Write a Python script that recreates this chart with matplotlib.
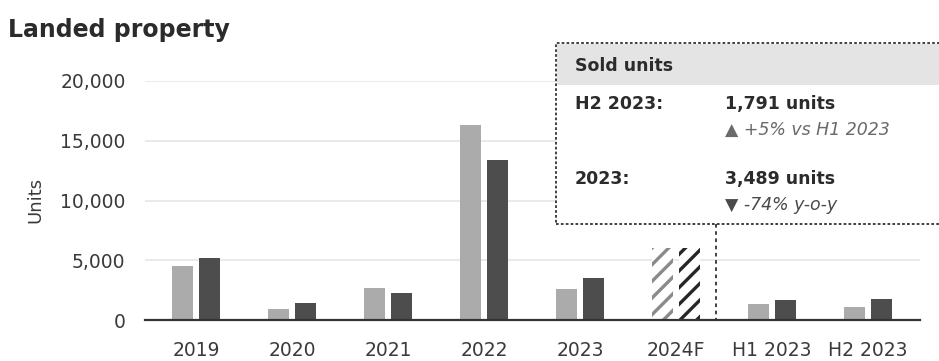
import numpy as np
import matplotlib
matplotlib.use('Agg')
import matplotlib.pyplot as plt
from matplotlib.patches import Rectangle
from matplotlib.lines import Line2D

# ---- data ----
categories = ['2019', '2020', '2021', '2022', '2023', '2024F', 'H1 2023', 'H2 2023']
launched = [4500, 920, 2670, 16330, 2580, 6000, 1330, 1080]
sold = [5170, 1420, 2230, 13420, 3489, 6050, 1706, 1791]
forecast = [False, False, False, False, False, True, False, False]

yticks = [0, 5000, 10000, 15000, 20000]

LIGHT = '#ababab'
DARK = '#4d4d4d'
TEXT = '#2b2b2b'

plt.rcParams['font.family'] = ['DejaVu Sans']
plt.rcParams['hatch.linewidth'] = 2.4

W, H = 939, 361
fig = plt.figure(figsize=(W / 100, H / 100), dpi=100)


def px(x, y):
    """pixel position -> figure fraction"""
    return x / W, 1 - y / H


ax = fig.add_axes([145 / W, 1 - 320 / H, 775 / W, 239 / H])

x = np.arange(len(categories))
bw = 0.22
off = 0.143
for i in range(len(categories)):
    if forecast[i]:
        ax.bar(x[i] - off, launched[i], bw, facecolor='white', edgecolor='#8a8a8a',
               linewidth=0, hatch='//', zorder=3)
        ax.bar(x[i] + off, sold[i], bw, facecolor='white', edgecolor='#262626',
               linewidth=0, hatch='//', zorder=3)
    else:
        ax.bar(x[i] - off, launched[i], bw, color=LIGHT, zorder=3)
        ax.bar(x[i] + off, sold[i], bw, color=DARK, zorder=3)

ax.set_xlim(-0.53, 7.54)
ax.set_ylim(0, 20000)
ax.set_yticks(yticks)
ax.set_yticklabels([f'{v:,}' for v in yticks], fontsize=13.5, color='#3a3a3a')
ax.set_xticks(x)
ax.set_xticklabels(categories, fontsize=13.5, color='#3a3a3a')
ax.tick_params(axis='y', length=0, pad=14)
ax.tick_params(axis='x', length=0, pad=15)
ax.grid(axis='y', color='#e6e6e6', linewidth=1.2, zorder=0)
for s in ['top', 'right', 'left']:
    ax.spines[s].set_visible(False)
ax.spines['bottom'].set_color('#333333')
ax.spines['bottom'].set_linewidth(1.6)
ax.spines['bottom'].set_zorder(4)

fig.text(*px(35, 200), 'Units', rotation=90, fontsize=13, color='#3a3a3a',
         ha='center', va='center')
fig.text(*px(8, 30), 'Landed property', fontsize=17, fontweight='bold', color=TEXT,
         ha='left', va='center')

# ---- callout box ----
bx0, by0, bx1, by1 = 556, 43, 945, 224
hx, hy = px(bx0, by1)
box = Rectangle((hx, hy), (bx1 - bx0) / W, (by1 - by0) / H, transform=fig.transFigure,
                facecolor='white', edgecolor='#333333', linewidth=1.3,
                linestyle=(0, (1.5, 1.2)), zorder=5, clip_on=False)
fig.patches.append(box)
hx, hy = px(bx0, 85)
band = Rectangle((hx + 1 / W, hy), (bx1 - bx0) / W, (85 - by0 - 1) / H,
                 transform=fig.transFigure, facecolor='#e4e4e4', edgecolor='none',
                 zorder=6)
fig.patches.append(band)

# dashed connector down to the axis
lx = 716
fig.lines.append(Line2D([lx / W, lx / W], [1 - by1 / H, 1 - 320 / H],
                        transform=fig.transFigure, color='#333333', linewidth=1.3,
                        linestyle=(0, (2, 2)), zorder=5))

h2 = sold[categories.index('H2 2023')]
h1 = sold[categories.index('H1 2023')]
y23 = sold[categories.index('2023')]
y22 = sold[categories.index('2022')]
hoh = (h2 / h1 - 1) * 100
yoy = (y23 / y22 - 1) * 100

fig.text(*px(575, 66), 'Sold units', fontsize=12.5, fontweight='bold', color=TEXT,
         va='center', zorder=7)
fig.text(*px(575, 104), 'H2 2023:', fontsize=12.5, fontweight='bold', color=TEXT,
         va='center', zorder=7)
fig.text(*px(725, 104), f'{h2:,} units', fontsize=12.5, fontweight='bold', color=TEXT,
         va='center', zorder=7)
fig.text(*px(725, 130), f'\u25b2 {hoh:+.0f}% vs H1 2023', fontsize=12.5, style='italic',
         color='#6a6a6a', va='center', zorder=7)
fig.text(*px(575, 179), '2023:', fontsize=12.5, fontweight='bold', color=TEXT,
         va='center', zorder=7)
fig.text(*px(725, 179), f'{y23:,} units', fontsize=12.5, fontweight='bold', color=TEXT,
         va='center', zorder=7)
fig.text(*px(725, 205), f'\u25bc {yoy:.0f}% y-o-y', fontsize=12.5, style='italic',
         color='#4a4a4a', va='center', zorder=7)

fig.savefig('out.png', dpi=100)
